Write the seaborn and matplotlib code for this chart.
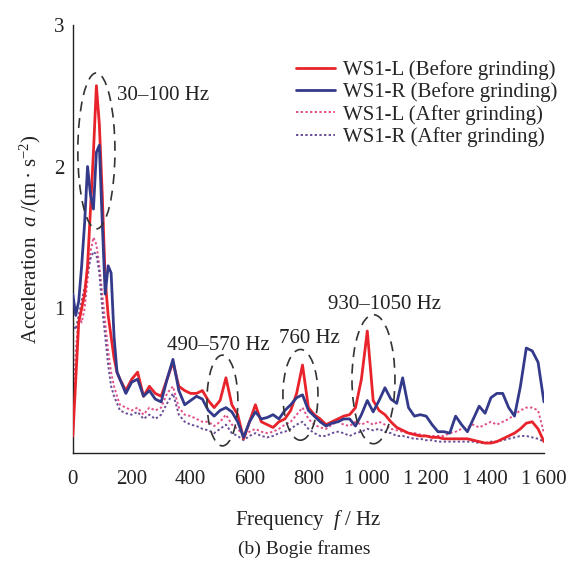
import numpy as np
import pandas as pd
import matplotlib
matplotlib.use("Agg")
import matplotlib.pyplot as plt
from matplotlib.patches import Ellipse
import seaborn as sns

sns.set_style("white")
plt.rcParams['font.family'] = ['Liberation Serif', 'DejaVu Serif']
plt.rcParams['mathtext.fontset'] = 'custom'
plt.rcParams['mathtext.rm'] = 'Liberation Serif'
plt.rcParams['mathtext.it'] = 'Liberation Serif:italic'

freq = list(range(0, 151, 10)) + list(range(160, 1601, 20))

ws1_l_before = [0.1, 0.5, 0.9, 1.0, 1.1, 1.3, 1.7, 2.1, 2.57, 2.3, 1.8, 1.2, 0.95, 0.8, 0.65, 0.55,
                0.5, 0.42, 0.5, 0.55, 0.38, 0.45, 0.4, 0.38, 0.5, 0.62, 0.45, 0.42, 0.4, 0.4, 0.42, 0.35,
                0.3, 0.35, 0.51, 0.32, 0.25, 0.08, 0.2, 0.32, 0.2, 0.18, 0.16, 0.2, 0.22, 0.28, 0.4, 0.6,
                0.3, 0.25, 0.22, 0.18, 0.2, 0.22, 0.24, 0.25, 0.3, 0.5, 0.84, 0.35, 0.28, 0.25, 0.2, 0.16,
                0.14, 0.12, 0.11, 0.1, 0.1, 0.09, 0.09, 0.08, 0.08, 0.08, 0.08, 0.08, 0.07, 0.06, 0.05,
                0.05, 0.06, 0.08, 0.1, 0.12, 0.15, 0.19, 0.2, 0.15, 0.06]
ws1_r_before = [1.1, 0.95, 1.05, 1.3, 1.6, 2.0, 1.8, 1.7, 2.1, 2.15, 1.6, 1.1, 1.3, 1.25, 0.8, 0.55,
                0.5, 0.4, 0.48, 0.5, 0.38, 0.42, 0.36, 0.34, 0.5, 0.64, 0.42, 0.32, 0.35, 0.38, 0.36, 0.28,
                0.24, 0.28, 0.3, 0.27, 0.2, 0.09, 0.2, 0.27, 0.22, 0.23, 0.25, 0.22, 0.28, 0.32, 0.37, 0.39,
                0.28, 0.24, 0.2, 0.17, 0.19, 0.2, 0.22, 0.22, 0.17, 0.25, 0.35, 0.27, 0.35, 0.44, 0.36, 0.33,
                0.51, 0.3, 0.24, 0.25, 0.24, 0.18, 0.13, 0.13, 0.12, 0.24, 0.18, 0.13, 0.22, 0.31, 0.26,
                0.37, 0.4, 0.4, 0.3, 0.24, 0.45, 0.72, 0.7, 0.62, 0.34]
ws1_l_after = [0.2, 0.7, 0.95, 0.9, 1.0, 1.2, 1.4, 1.5, 1.45, 1.3, 1.1, 0.9, 0.7, 0.55, 0.45, 0.38,
               0.32, 0.3, 0.28, 0.3, 0.25, 0.3, 0.28, 0.3, 0.4, 0.45, 0.3, 0.25, 0.24, 0.22, 0.2, 0.2,
               0.17, 0.2, 0.25, 0.18, 0.15, 0.1, 0.13, 0.15, 0.13, 0.12, 0.13, 0.15, 0.18, 0.2, 0.25, 0.3,
               0.22, 0.18, 0.16, 0.15, 0.18, 0.2, 0.18, 0.17, 0.2, 0.18, 0.2, 0.18, 0.2, 0.18, 0.15, 0.14,
               0.13, 0.12, 0.12, 0.11, 0.1, 0.1, 0.1, 0.1, 0.12, 0.13, 0.15, 0.16, 0.18, 0.16, 0.18,
               0.2, 0.18, 0.2, 0.22, 0.25, 0.28, 0.3, 0.3, 0.28, 0.12]
ws1_r_after = [0.9, 0.85, 0.95, 1.05, 1.15, 1.25, 1.35, 1.4, 1.38, 1.25, 1.0, 0.8, 0.6, 0.45, 0.38, 0.33,
               0.28, 0.26, 0.25, 0.27, 0.22, 0.25, 0.22, 0.25, 0.33, 0.4, 0.25, 0.2, 0.18, 0.17, 0.15, 0.14,
               0.12, 0.15, 0.18, 0.12, 0.1, 0.07, 0.1, 0.12, 0.1, 0.09, 0.1, 0.12, 0.13, 0.15, 0.18, 0.2,
               0.15, 0.12, 0.1, 0.1, 0.12, 0.13, 0.12, 0.1, 0.12, 0.13, 0.15, 0.14, 0.15, 0.13, 0.12, 0.1,
               0.1, 0.09, 0.08, 0.08, 0.07, 0.07, 0.06, 0.06, 0.06, 0.06, 0.06, 0.06, 0.06, 0.05, 0.05,
               0.06, 0.06, 0.07, 0.08, 0.09, 0.1, 0.1, 0.09, 0.08, 0.06]

labels = ["WS1-L (Before grinding)", "WS1-R (Before grinding)",
          "WS1-L (After grinding)", "WS1-R (After grinding)"]

# annotation regions: (center f, center a, width Hz, height a)
regions = [(80, 2.11, 126, 1.10), (508, 0.35, 105, 0.64), (773, 0.39, 119, 0.64), (1021, 0.50, 146, 0.91)]
region_labels = ["30\u2013100 Hz", "490\u2013570 Hz", "760 Hz", "930\u20131050 Hz"]
region_label_pos = [(150, 2.5), (320, 0.74), (700, 0.79), (868, 1.03)]

xticks = [0, 200, 400, 600, 800, 1000, 1200, 1400, 1600]
xticklabels = ["0", "200", "400", "600", "800", "1\u2009000", "1\u2009200", "1\u2009400", "1\u2009600"]
yticks = [1, 2, 3]

fig = plt.figure(figsize=(5.69, 5.68), dpi=100)
ax = fig.add_axes([0.128, 0.2025, 0.828, 0.754])

styles = [
    dict(color="#e8232b", lw=2.0, ls="-"),
    dict(color="#343a8a", lw=2.0, ls="-"),
    dict(color="#e0508a", lw=1.4, ls=(0, (1.2, 1.2))),
    dict(color="#6a4f98", lw=1.4, ls=(0, (1.2, 1.2))),
]
series = [ws1_l_before, ws1_r_before, ws1_l_after, ws1_r_after]
order = [2, 3, 0, 1]
for i in order:
    df = pd.DataFrame({"f": freq, "a": series[i]})
    sns.lineplot(data=df, x="f", y="a", ax=ax, color=styles[i]["color"], lw=styles[i]["lw"],
                 linestyle=styles[i]["ls"], label=labels[i], zorder=3 if i < 2 else 2)

for (cx, cy, w, h) in regions:
    ax.add_patch(Ellipse((cx, cy), w, h, fill=False, ls=(0, (6, 4)), lw=1.2, ec="#333333", zorder=4))
for t, (lx, ly) in zip(region_labels, region_label_pos):
    ax.text(lx, ly, t, fontsize=15, ha="left", va="center", color="#222222")

ax.set_xlim(0, 1600)
ax.set_ylim(-0.02, 3)
ax.set_xticks(xticks)
ax.set_xticklabels(xticklabels, fontsize=15)
ax.set_yticks(yticks)
ax.set_yticklabels([str(v) for v in yticks], fontsize=15)
ax.tick_params(direction="in", length=5, width=1, colors="#222222")
ax.tick_params(axis="x", pad=12)
ax.tick_params(axis="y", pad=6)
for s in ["top", "right"]:
    ax.spines[s].set_visible(False)
for s in ["left", "bottom"]:
    ax.spines[s].set_color("#222222")
    ax.spines[s].set_linewidth(1.0)

ax.set_xlabel("Frequency  $f$ / Hz", fontsize=15, color="#222222", labelpad=14)
ax.set_ylabel(r"Acceleration  $a$ /(m $\bullet$ s$^{-2}$)", fontsize=15, color="#222222", labelpad=8)
fig.text(0.535, 0.033, "(b) Bogie frames", fontsize=14, ha="center", va="center", color="#222222")

handles, labs = ax.get_legend_handles_labels()
hmap = dict(zip(labs, handles))
ax.legend([hmap[l] for l in labels], labels, loc="upper right", bbox_to_anchor=(1.006, 0.92),
          bbox_transform=fig.transFigure, frameon=False, fontsize=15, handlelength=1.9,
          handletextpad=0.4, labelspacing=0.12, borderpad=0.2)

fig.savefig("out.png", dpi=100)
